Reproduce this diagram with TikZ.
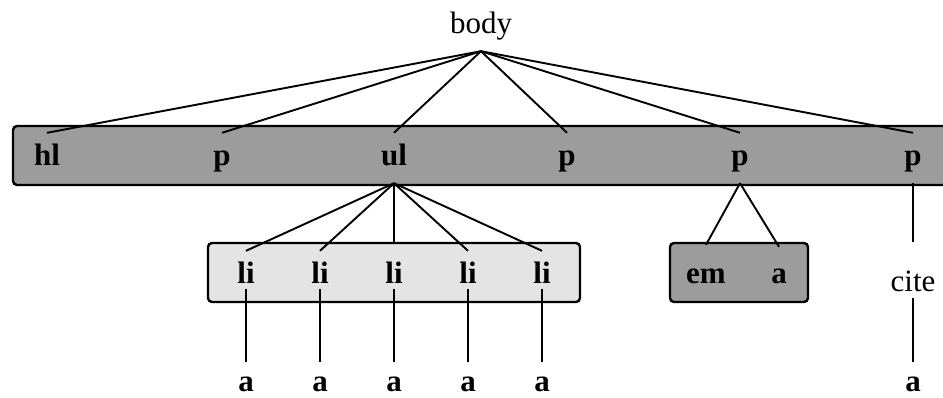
\documentclass[tikz,border=0pt]{standalone}
\usepackage{fontspec}
\setmainfont{Liberation Serif}
\usepackage{xcolor}
\usepackage{tikz}

\definecolor{bargray}{HTML}{9C9C9C}
\definecolor{ligray}{HTML}{E4E4E4}

\begin{document}
\begin{tikzpicture}[x=1pt, y=-1pt,
    tag/.style={inner xsep=2pt, inner ysep=12pt, text height=20pt, text depth=6pt,
                font=\fontsize{31}{32}\selectfont\bfseries},
    plain/.style={tag, font=\fontsize{31}{32}\selectfont},
    group/.style={draw, line width=2.4pt, rounded corners=4pt},
    edge/.style={line width=1.9pt}]
    \useasboundingbox (0,0) rectangle (943,397);

    % Grouping boxes
    \draw[group, fill=bargray] (13,126) rectangle (960,185);
    \draw[group, fill=ligray] (208,243) rectangle (580,302);
    \draw[group, fill=bargray] (670,243) rectangle (808,302);

    % Root
    \node[plain] (body) at (481,26) {body};

    % Children of body
    \node[tag] (hl) at (47,158) {hl};
    \node[tag] (p1) at (222,158) {p};
    \node[tag] (ul) at (394,158) {ul};
    \node[tag] (p2) at (567,158) {p};
    \node[tag] (p3) at (740,158) {p};
    \node[tag] (p4) at (913,158) {p};

    \draw[edge] (body.south) -- (hl.north);
    \draw[edge] (body.south) -- (p1.north);
    \draw[edge] (body.south) -- (ul.north);
    \draw[edge] (body.south) -- (p2.north);
    \draw[edge] (body.south) -- (p3.north);
    \draw[edge] (body.south) -- (p4.north);

    % List items
    \node[tag] (li1) at (246,276) {li};
    \node[tag] (li2) at (320,276) {li};
    \node[tag] (li3) at (394,276) {li};
    \node[tag] (li4) at (468,276) {li};
    \node[tag] (li5) at (542,276) {li};

    \draw[edge] (ul.south) -- (li1.north);
    \draw[edge] (ul.south) -- (li2.north);
    \draw[edge] (ul.south) -- ([yshift=8pt]li3.north);
    \draw[edge] (ul.south) -- (li4.north);
    \draw[edge] (ul.south) -- (li5.north);

    % Links under the list items
    \node[tag] (a1) at (246,384) {a};
    \node[tag] (a2) at (320,384) {a};
    \node[tag] (a3) at (394,384) {a};
    \node[tag] (a4) at (468,384) {a};
    \node[tag] (a5) at (542,384) {a};

    \draw[edge, shorten <=-12pt, shorten >=-3pt] (li1.south) -- (a1.north);
    \draw[edge, shorten <=-12pt, shorten >=-3pt] (li2.south) -- (a2.north);
    \draw[edge, shorten <=-12pt, shorten >=-3pt] (li3.south) -- (a3.north);
    \draw[edge, shorten <=-12pt, shorten >=-3pt] (li4.south) -- (a4.north);
    \draw[edge, shorten <=-12pt, shorten >=-3pt] (li5.south) -- (a5.north);

    % Inline children of the fifth p
    \node[tag] (em) at (706,276) {em};
    \node[tag] (a6) at (779,276) {a};
    \draw[edge] (p3.south) -- ([yshift=6pt]em.north);
    \draw[edge] (p3.south) -- ([yshift=4pt]a6.north);

    % cite chain
    \node[plain] (cite) at (913,284) {cite};
    \node[tag] (a7) at (913,384) {a};
    \draw[edge, shorten >=17pt] (p4.south) -- (cite.north);
    \draw[edge, shorten <=-11pt, shorten >=-3pt] (cite.south) -- (a7.north);
\end{tikzpicture}
\end{document}
